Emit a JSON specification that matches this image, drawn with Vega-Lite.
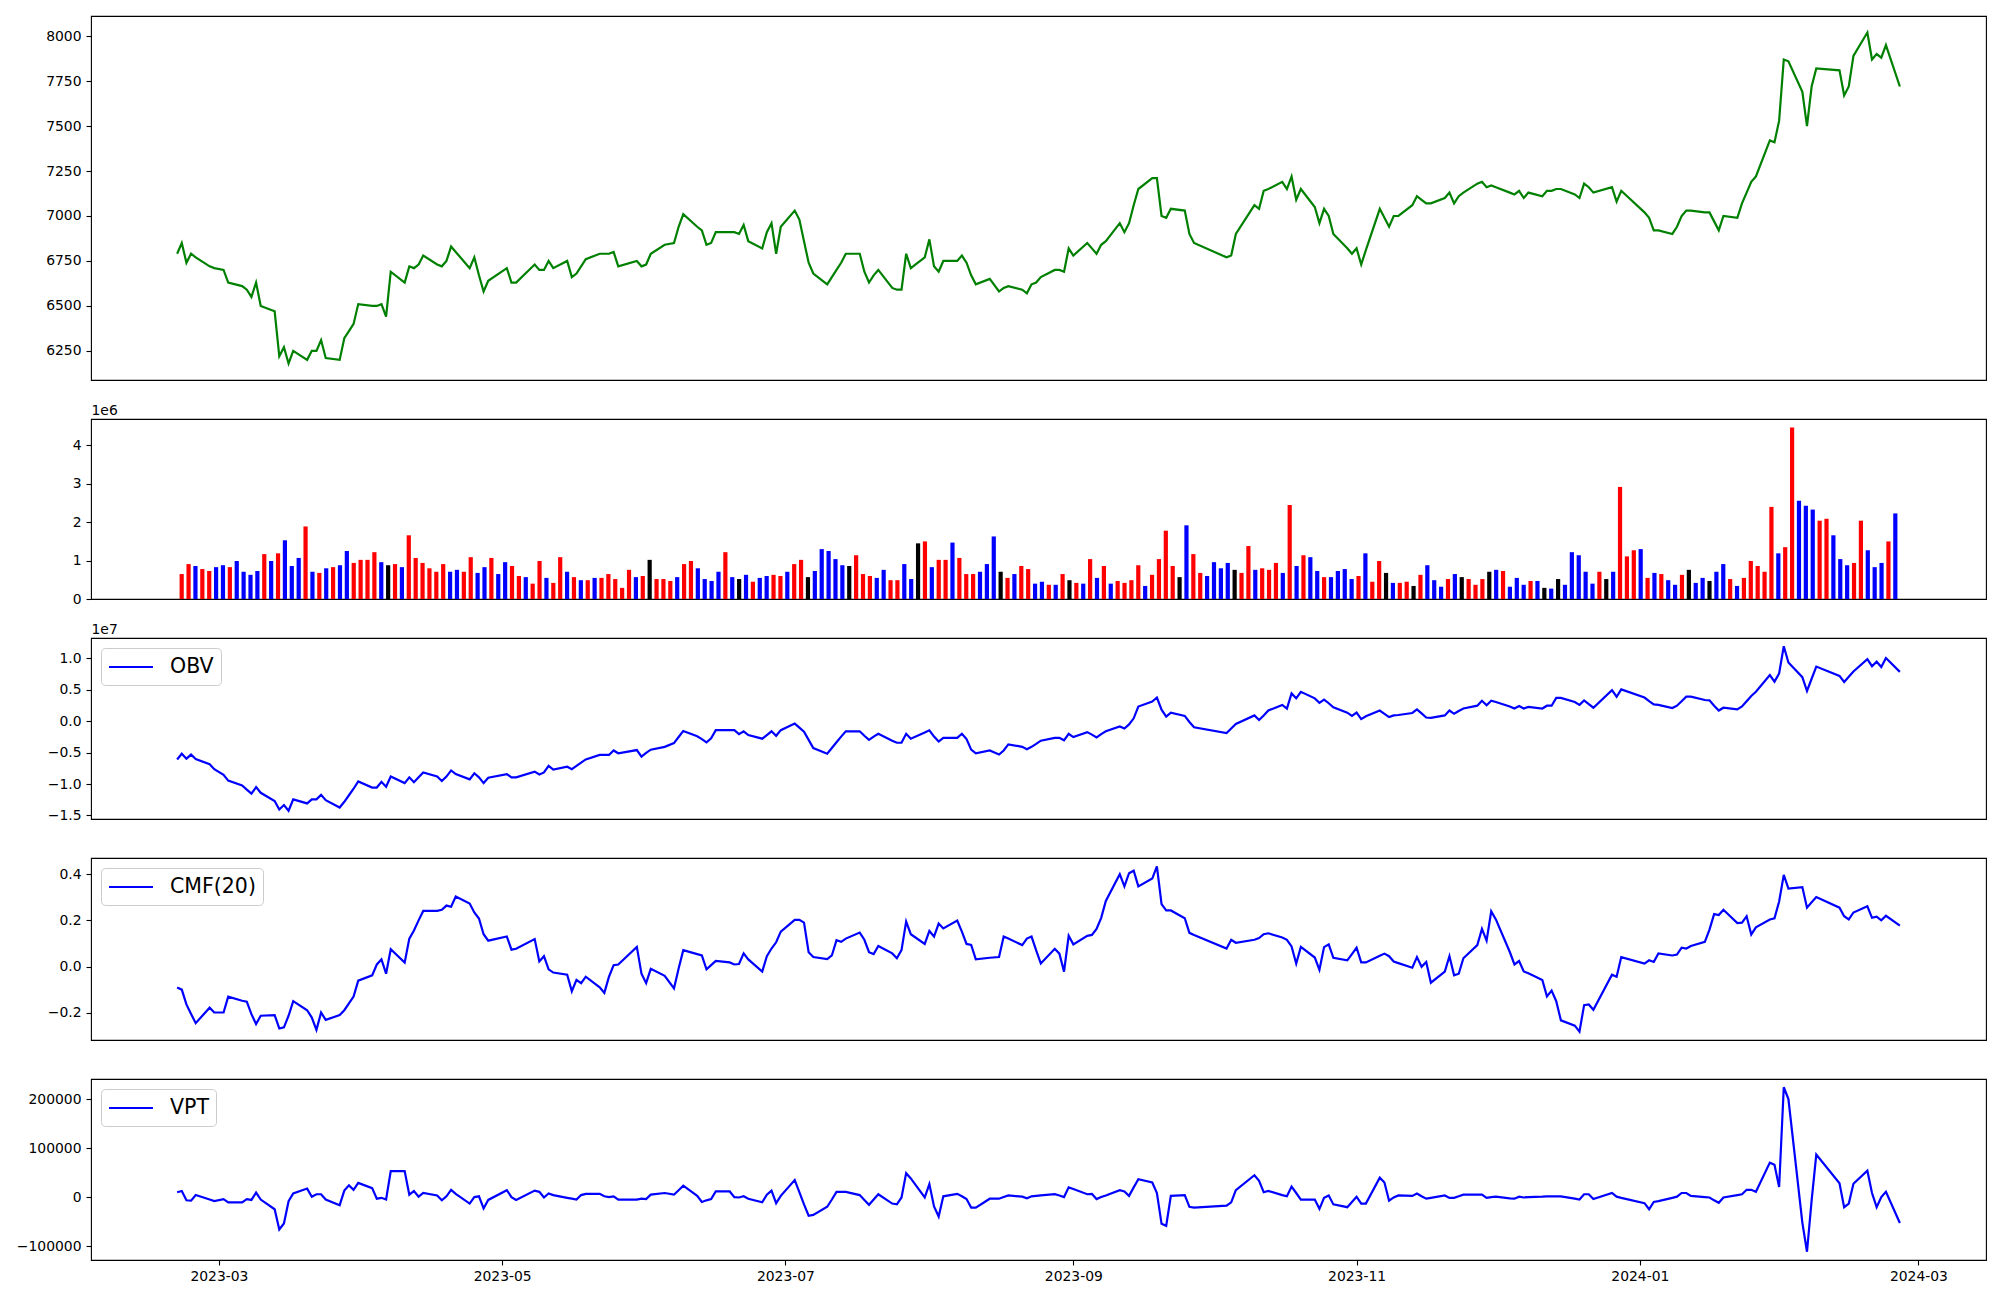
{
"$schema": "https://vega.github.io/schema/vega-lite/v6.json",
"background": "white",
"padding": {"left": 15, "top": 15, "right": 15, "bottom": 5},
"spacing": 39,
"bounds": "flush",
"datasets": {"d": [
{"d":"2023-02-20","i":0,"c":6790,"v":650000,"s":"up","obv":-6080000,"cmf":-0.091,"vpt":10300},
{"d":"2023-02-21","i":1,"c":6850,"v":910000,"s":"up","obv":-5170000,"cmf":-0.100,"vpt":12800},
{"d":"2023-02-22","i":2,"c":6740,"v":860000,"s":"down","obv":-5950000,"cmf":-0.164,"vpt":-6200},
{"d":"2023-02-23","i":3,"c":6790,"v":780000,"s":"up","obv":-5300000,"cmf":-0.205,"vpt":-7000},
{"d":"2023-02-24","i":4,"c":6770,"v":730000,"s":"up","obv":-6010000,"cmf":-0.245,"vpt":4500},
{"d":"2023-02-27","i":5,"c":6720,"v":830000,"s":"down","obv":-6850000,"cmf":-0.178,"vpt":-4600},
{"d":"2023-02-28","i":6,"c":6710,"v":880000,"s":"down","obv":-7630000,"cmf":-0.199,"vpt":-7900},
{"d":"2023-03-02","i":7,"c":6700,"v":830000,"s":"up","obv":-8540000,"cmf":-0.199,"vpt":-3700},
{"d":"2023-03-03","i":8,"c":6630,"v":990000,"s":"down","obv":-9450000,"cmf":-0.130,"vpt":-10300},
{"d":"2023-03-06","i":9,"c":6610,"v":710000,"s":"down","obv":-10230000,"cmf":-0.148,"vpt":-10300},
{"d":"2023-03-07","i":10,"c":6590,"v":630000,"s":"down","obv":-10870000,"cmf":-0.152,"vpt":-3700},
{"d":"2023-03-08","i":11,"c":6550,"v":730000,"s":"down","obv":-11520000,"cmf":-0.206,"vpt":-5400},
{"d":"2023-03-09","i":12,"c":6630,"v":1170000,"s":"up","obv":-10490000,"cmf":-0.249,"vpt":9500},
{"d":"2023-03-10","i":13,"c":6500,"v":990000,"s":"down","obv":-11390000,"cmf":-0.213,"vpt":-4600},
{"d":"2023-03-13","i":14,"c":6470,"v":1190000,"s":"up","obv":-12690000,"cmf":-0.210,"vpt":-24400},
{"d":"2023-03-14","i":15,"c":6220,"v":1530000,"s":"down","obv":-14050000,"cmf":-0.268,"vpt":-65600},
{"d":"2023-03-15","i":16,"c":6270,"v":860000,"s":"down","obv":-13340000,"cmf":-0.263,"vpt":-53200},
{"d":"2023-03-16","i":17,"c":6180,"v":1070000,"s":"down","obv":-14250000,"cmf":-0.213,"vpt":-7900},
{"d":"2023-03-17","i":18,"c":6250,"v":1890000,"s":"up","obv":-12430000,"cmf":-0.150,"vpt":7800},
{"d":"2023-03-20","i":19,"c":6200,"v":710000,"s":"down","obv":-13080000,"cmf":-0.189,"vpt":17700},
{"d":"2023-03-21","i":20,"c":6250,"v":680000,"s":"up","obv":-12430000,"cmf":-0.221,"vpt":1200},
{"d":"2023-03-22","i":21,"c":6250,"v":800000,"s":"down","obv":-12430000,"cmf":-0.274,"vpt":6200},
{"d":"2023-03-23","i":22,"c":6310,"v":830000,"s":"up","obv":-11720000,"cmf":-0.199,"vpt":6200},
{"d":"2023-03-24","i":23,"c":6210,"v":880000,"s":"down","obv":-12560000,"cmf":-0.231,"vpt":-4600},
{"d":"2023-03-27","i":24,"c":6200,"v":1250000,"s":"down","obv":-13730000,"cmf":-0.210,"vpt":-16100},
{"d":"2023-03-28","i":25,"c":6320,"v":940000,"s":"up","obv":-12820000,"cmf":-0.189,"vpt":13600},
{"d":"2023-03-29","i":26,"c":6360,"v":1020000,"s":"up","obv":-11780000,"cmf":-0.159,"vpt":24300},
{"d":"2023-03-30","i":27,"c":6400,"v":1020000,"s":"up","obv":-10740000,"cmf":-0.130,"vpt":15200},
{"d":"2023-03-31","i":28,"c":6510,"v":1220000,"s":"up","obv":-9580000,"cmf":-0.061,"vpt":29300},
{"d":"2023-04-03","i":29,"c":6500,"v":960000,"s":"down","obv":-10550000,"cmf":-0.038,"vpt":18600},
{"d":"2023-04-04","i":30,"c":6500,"v":880000,"s":"flat","obv":-10550000,"cmf":0.009,"vpt":-2900},
{"d":"2023-04-05","i":31,"c":6510,"v":910000,"s":"up","obv":-9640000,"cmf":0.031,"vpt":-1100},
{"d":"2023-04-06","i":32,"c":6440,"v":830000,"s":"down","obv":-10420000,"cmf":-0.031,"vpt":-4600},
{"d":"2023-04-07","i":33,"c":6690,"v":1660000,"s":"up","obv":-8800000,"cmf":0.075,"vpt":53200},
{"d":"2023-04-10","i":34,"c":6630,"v":1070000,"s":"up","obv":-9840000,"cmf":0.017,"vpt":53200},
{"d":"2023-04-11","i":35,"c":6720,"v":940000,"s":"up","obv":-8930000,"cmf":0.121,"vpt":5300},
{"d":"2023-04-12","i":36,"c":6710,"v":800000,"s":"up","obv":-9710000,"cmf":0.156,"vpt":12800},
{"d":"2023-04-13","i":37,"c":6730,"v":710000,"s":"up","obv":-8930000,"cmf":0.200,"vpt":1200},
{"d":"2023-04-14","i":38,"c":6780,"v":910000,"s":"up","obv":-8150000,"cmf":0.241,"vpt":8700},
{"d":"2023-04-17","i":39,"c":6730,"v":710000,"s":"down","obv":-8800000,"cmf":0.241,"vpt":3700},
{"d":"2023-04-18","i":40,"c":6720,"v":760000,"s":"down","obv":-9510000,"cmf":0.246,"vpt":-6200},
{"d":"2023-04-19","i":41,"c":6750,"v":710000,"s":"up","obv":-8800000,"cmf":0.264,"vpt":2000},
{"d":"2023-04-20","i":42,"c":6830,"v":1090000,"s":"up","obv":-7830000,"cmf":0.259,"vpt":15200},
{"d":"2023-04-21","i":43,"c":6800,"v":680000,"s":"down","obv":-8410000,"cmf":0.303,"vpt":7000},
{"d":"2023-04-24","i":44,"c":6710,"v":830000,"s":"down","obv":-9250000,"cmf":0.273,"vpt":-12800},
{"d":"2023-04-25","i":45,"c":6770,"v":1070000,"s":"up","obv":-8280000,"cmf":0.234,"vpt":400},
{"d":"2023-04-26","i":46,"c":6670,"v":650000,"s":"down","obv":-8930000,"cmf":0.208,"vpt":2000},
{"d":"2023-04-27","i":47,"c":6580,"v":960000,"s":"down","obv":-9840000,"cmf":0.140,"vpt":-22700},
{"d":"2023-04-28","i":48,"c":6640,"v":860000,"s":"up","obv":-8990000,"cmf":0.112,"vpt":-5400},
{"d":"2023-05-02","i":49,"c":6710,"v":600000,"s":"up","obv":-8410000,"cmf":0.130,"vpt":14400},
{"d":"2023-05-03","i":50,"c":6630,"v":570000,"s":"down","obv":-8930000,"cmf":0.073,"vpt":400},
{"d":"2023-05-04","i":51,"c":6630,"v":400000,"s":"up","obv":-8930000,"cmf":0.077,"vpt":-5400},
{"d":"2023-05-08","i":52,"c":6730,"v":990000,"s":"up","obv":-8020000,"cmf":0.119,"vpt":13600},
{"d":"2023-05-09","i":53,"c":6700,"v":550000,"s":"down","obv":-8470000,"cmf":0.022,"vpt":11100},
{"d":"2023-05-10","i":54,"c":6700,"v":420000,"s":"up","obv":-8150000,"cmf":0.045,"vpt":-400},
{"d":"2023-05-11","i":55,"c":6750,"v":1090000,"s":"up","obv":-7110000,"cmf":-0.012,"vpt":7800},
{"d":"2023-05-12","i":56,"c":6710,"v":710000,"s":"down","obv":-7700000,"cmf":-0.026,"vpt":4500},
{"d":"2023-05-15","i":57,"c":6750,"v":570000,"s":"up","obv":-7240000,"cmf":-0.035,"vpt":-1200},
{"d":"2023-05-16","i":58,"c":6660,"v":490000,"s":"down","obv":-7630000,"cmf":-0.107,"vpt":-2900},
{"d":"2023-05-17","i":59,"c":6680,"v":490000,"s":"up","obv":-7110000,"cmf":-0.058,"vpt":-4600},
{"d":"2023-05-18","i":60,"c":6720,"v":550000,"s":"down","obv":-6590000,"cmf":-0.072,"vpt":4500},
{"d":"2023-05-19","i":61,"c":6760,"v":550000,"s":"up","obv":-6080000,"cmf":-0.044,"vpt":7000},
{"d":"2023-05-22","i":62,"c":6790,"v":650000,"s":"up","obv":-5360000,"cmf":-0.090,"vpt":7000},
{"d":"2023-05-23","i":63,"c":6790,"v":520000,"s":"up","obv":-5360000,"cmf":-0.114,"vpt":2000},
{"d":"2023-05-24","i":64,"c":6790,"v":290000,"s":"up","obv":-5360000,"cmf":-0.044,"vpt":400},
{"d":"2023-05-25","i":65,"c":6800,"v":760000,"s":"up","obv":-4650000,"cmf":0.006,"vpt":2000},
{"d":"2023-05-26","i":66,"c":6720,"v":570000,"s":"down","obv":-5100000,"cmf":0.009,"vpt":-4600},
{"d":"2023-05-30","i":67,"c":6750,"v":600000,"s":"up","obv":-4580000,"cmf":0.085,"vpt":-4600},
{"d":"2023-05-31","i":68,"c":6720,"v":1020000,"s":"flat","obv":-5620000,"cmf":-0.031,"vpt":-2900},
{"d":"2023-06-01","i":69,"c":6730,"v":520000,"s":"up","obv":-5040000,"cmf":-0.072,"vpt":-3700},
{"d":"2023-06-02","i":70,"c":6790,"v":520000,"s":"up","obv":-4520000,"cmf":-0.010,"vpt":5300},
{"d":"2023-06-05","i":71,"c":6840,"v":470000,"s":"up","obv":-4070000,"cmf":-0.040,"vpt":8700},
{"d":"2023-06-07","i":72,"c":6850,"v":570000,"s":"down","obv":-3480000,"cmf":-0.095,"vpt":5300},
{"d":"2023-06-08","i":73,"c":6940,"v":910000,"s":"up","obv":-2510000,"cmf":-0.008,"vpt":14400},
{"d":"2023-06-09","i":74,"c":7010,"v":990000,"s":"up","obv":-1540000,"cmf":0.071,"vpt":23500},
{"d":"2023-06-12","i":75,"c":6940,"v":800000,"s":"down","obv":-2380000,"cmf":0.054,"vpt":2900},
{"d":"2023-06-13","i":76,"c":6920,"v":520000,"s":"down","obv":-2830000,"cmf":0.048,"vpt":-9500},
{"d":"2023-06-14","i":77,"c":6840,"v":470000,"s":"down","obv":-3350000,"cmf":-0.012,"vpt":-6200},
{"d":"2023-06-15","i":78,"c":6850,"v":710000,"s":"down","obv":-2700000,"cmf":0.006,"vpt":-3700},
{"d":"2023-06-16","i":79,"c":6910,"v":1220000,"s":"up","obv":-1410000,"cmf":0.024,"vpt":11900},
{"d":"2023-06-19","i":80,"c":6910,"v":570000,"s":"down","obv":-1410000,"cmf":0.018,"vpt":11900},
{"d":"2023-06-20","i":81,"c":6910,"v":520000,"s":"flat","obv":-1410000,"cmf":0.009,"vpt":400},
{"d":"2023-06-21","i":82,"c":6900,"v":630000,"s":"down","obv":-2050000,"cmf":0.011,"vpt":-400},
{"d":"2023-06-22","i":83,"c":6950,"v":450000,"s":"up","obv":-1600000,"cmf":0.057,"vpt":2000},
{"d":"2023-06-23","i":84,"c":6860,"v":550000,"s":"down","obv":-2190000,"cmf":0.031,"vpt":-2900},
{"d":"2023-06-26","i":85,"c":6820,"v":600000,"s":"down","obv":-2770000,"cmf":-0.022,"vpt":-10300},
{"d":"2023-06-27","i":86,"c":6910,"v":630000,"s":"up","obv":-2190000,"cmf":0.045,"vpt":5300},
{"d":"2023-06-28","i":87,"c":6960,"v":600000,"s":"up","obv":-1600000,"cmf":0.078,"vpt":13600},
{"d":"2023-06-29","i":88,"c":6790,"v":710000,"s":"down","obv":-2310000,"cmf":0.105,"vpt":-12000},
{"d":"2023-06-30","i":89,"c":6940,"v":910000,"s":"up","obv":-1410000,"cmf":0.151,"vpt":2900},
{"d":"2023-07-03","i":90,"c":7030,"v":1020000,"s":"up","obv":-370000,"cmf":0.202,"vpt":35000},
{"d":"2023-07-04","i":91,"c":6980,"v":570000,"s":"flat","obv":-1020000,"cmf":0.202,"vpt":10300},
{"d":"2023-07-05","i":92,"c":6860,"v":730000,"s":"down","obv":-1670000,"cmf":0.190,"vpt":-14500},
{"d":"2023-07-06","i":93,"c":6740,"v":1300000,"s":"down","obv":-2960000,"cmf":0.062,"vpt":-37600},
{"d":"2023-07-07","i":94,"c":6680,"v":1250000,"s":"down","obv":-4260000,"cmf":0.041,"vpt":-35900},
{"d":"2023-07-10","i":95,"c":6620,"v":1040000,"s":"down","obv":-5170000,"cmf":0.032,"vpt":-19400},
{"d":"2023-07-11","i":96,"c":6660,"v":880000,"s":"down","obv":-4260000,"cmf":0.048,"vpt":-4600},
{"d":"2023-07-12","i":97,"c":6700,"v":860000,"s":"flat","obv":-3350000,"cmf":0.114,"vpt":11100},
{"d":"2023-07-13","i":98,"c":6740,"v":1140000,"s":"up","obv":-2440000,"cmf":0.107,"vpt":11100},
{"d":"2023-07-14","i":99,"c":6790,"v":650000,"s":"up","obv":-1600000,"cmf":0.121,"vpt":11100},
{"d":"2023-07-17","i":100,"c":6790,"v":600000,"s":"up","obv":-1600000,"cmf":0.147,"vpt":4500},
{"d":"2023-07-18","i":101,"c":6690,"v":550000,"s":"down","obv":-2310000,"cmf":0.116,"vpt":-5400},
{"d":"2023-07-19","i":102,"c":6630,"v":760000,"s":"down","obv":-2960000,"cmf":0.062,"vpt":-15300},
{"d":"2023-07-20","i":103,"c":6670,"v":490000,"s":"up","obv":-2440000,"cmf":0.054,"vpt":-4600},
{"d":"2023-07-21","i":104,"c":6700,"v":490000,"s":"up","obv":-1990000,"cmf":0.089,"vpt":6200},
{"d":"2023-07-24","i":105,"c":6600,"v":910000,"s":"down","obv":-3090000,"cmf":0.057,"vpt":-12800},
{"d":"2023-07-25","i":106,"c":6590,"v":520000,"s":"down","obv":-3420000,"cmf":0.036,"vpt":-14500},
{"d":"2023-07-26","i":107,"c":6590,"v":1450000,"s":"flat","obv":-3420000,"cmf":0.071,"vpt":-400},
{"d":"2023-07-27","i":108,"c":6790,"v":1500000,"s":"up","obv":-1990000,"cmf":0.195,"vpt":49100},
{"d":"2023-07-28","i":109,"c":6710,"v":830000,"s":"down","obv":-2770000,"cmf":0.140,"vpt":38400},
{"d":"2023-07-31","i":110,"c":6770,"v":1020000,"s":"up","obv":-1790000,"cmf":0.098,"vpt":-400},
{"d":"2023-08-01","i":111,"c":6870,"v":1020000,"s":"up","obv":-1440000,"cmf":0.154,"vpt":26800},
{"d":"2023-08-02","i":112,"c":6720,"v":1470000,"s":"down","obv":-2440000,"cmf":0.130,"vpt":-18600},
{"d":"2023-08-03","i":113,"c":6690,"v":1070000,"s":"up","obv":-3220000,"cmf":0.186,"vpt":-39200},
{"d":"2023-08-04","i":114,"c":6750,"v":650000,"s":"up","obv":-2640000,"cmf":0.165,"vpt":2000},
{"d":"2023-08-07","i":115,"c":6750,"v":650000,"s":"up","obv":-2640000,"cmf":0.199,"vpt":7000},
{"d":"2023-08-08","i":116,"c":6780,"v":710000,"s":"down","obv":-1990000,"cmf":0.151,"vpt":2000},
{"d":"2023-08-09","i":117,"c":6740,"v":910000,"s":"down","obv":-2830000,"cmf":0.098,"vpt":-3700},
{"d":"2023-08-10","i":118,"c":6670,"v":1630000,"s":"down","obv":-4520000,"cmf":0.094,"vpt":-21100},
{"d":"2023-08-11","i":119,"c":6620,"v":710000,"s":"flat","obv":-5100000,"cmf":0.031,"vpt":-21100},
{"d":"2023-08-14","i":120,"c":6650,"v":550000,"s":"up","obv":-4650000,"cmf":0.038,"vpt":-2900},
{"d":"2023-08-16","i":121,"c":6580,"v":650000,"s":"down","obv":-5300000,"cmf":0.041,"vpt":-2900},
{"d":"2023-08-17","i":122,"c":6600,"v":860000,"s":"up","obv":-4650000,"cmf":0.130,"vpt":400},
{"d":"2023-08-18","i":123,"c":6610,"v":780000,"s":"up","obv":-3680000,"cmf":0.121,"vpt":3700},
{"d":"2023-08-21","i":124,"c":6590,"v":400000,"s":"down","obv":-4070000,"cmf":0.093,"vpt":1200},
{"d":"2023-08-22","i":125,"c":6570,"v":450000,"s":"down","obv":-4450000,"cmf":0.121,"vpt":-2100},
{"d":"2023-08-23","i":126,"c":6620,"v":370000,"s":"up","obv":-4070000,"cmf":0.130,"vpt":2000},
{"d":"2023-08-24","i":127,"c":6630,"v":370000,"s":"down","obv":-3610000,"cmf":0.070,"vpt":2900},
{"d":"2023-08-25","i":128,"c":6660,"v":650000,"s":"up","obv":-3090000,"cmf":0.013,"vpt":3700},
{"d":"2023-08-28","i":129,"c":6700,"v":490000,"s":"flat","obv":-2640000,"cmf":0.077,"vpt":6200},
{"d":"2023-08-29","i":130,"c":6700,"v":420000,"s":"up","obv":-2640000,"cmf":0.056,"vpt":3700},
{"d":"2023-08-30","i":131,"c":6690,"v":400000,"s":"down","obv":-3030000,"cmf":-0.022,"vpt":400},
{"d":"2023-08-31","i":132,"c":6820,"v":1040000,"s":"up","obv":-1990000,"cmf":0.133,"vpt":20200},
{"d":"2023-09-01","i":133,"c":6780,"v":550000,"s":"down","obv":-2510000,"cmf":0.096,"vpt":16900},
{"d":"2023-09-04","i":134,"c":6850,"v":860000,"s":"up","obv":-1730000,"cmf":0.133,"vpt":6200},
{"d":"2023-09-05","i":135,"c":6820,"v":400000,"s":"down","obv":-2120000,"cmf":0.137,"vpt":7000},
{"d":"2023-09-06","i":136,"c":6790,"v":470000,"s":"up","obv":-2570000,"cmf":0.163,"vpt":-3700},
{"d":"2023-09-07","i":137,"c":6840,"v":420000,"s":"up","obv":-2050000,"cmf":0.211,"vpt":400},
{"d":"2023-09-08","i":138,"c":6860,"v":490000,"s":"up","obv":-1600000,"cmf":0.284,"vpt":3700},
{"d":"2023-09-11","i":139,"c":6960,"v":880000,"s":"up","obv":-820000,"cmf":0.400,"vpt":14400},
{"d":"2023-09-12","i":140,"c":6910,"v":340000,"s":"down","obv":-1150000,"cmf":0.347,"vpt":11900},
{"d":"2023-09-13","i":141,"c":6960,"v":630000,"s":"up","obv":-500000,"cmf":0.404,"vpt":2900},
{"d":"2023-09-14","i":142,"c":7060,"v":1040000,"s":"up","obv":470000,"cmf":0.415,"vpt":20200},
{"d":"2023-09-15","i":143,"c":7150,"v":1780000,"s":"up","obv":2350000,"cmf":0.347,"vpt":36700},
{"d":"2023-09-18","i":144,"c":7210,"v":860000,"s":"up","obv":3130000,"cmf":0.381,"vpt":30100},
{"d":"2023-09-19","i":145,"c":7210,"v":570000,"s":"flat","obv":3780000,"cmf":0.434,"vpt":8700},
{"d":"2023-09-20","i":146,"c":7000,"v":1920000,"s":"down","obv":1840000,"cmf":0.270,"vpt":-54100},
{"d":"2023-09-21","i":147,"c":6990,"v":1170000,"s":"up","obv":730000,"cmf":0.243,"vpt":-58200},
{"d":"2023-09-22","i":148,"c":7040,"v":680000,"s":"up","obv":1380000,"cmf":0.243,"vpt":2900},
{"d":"2023-09-25","i":149,"c":7030,"v":600000,"s":"down","obv":860000,"cmf":0.209,"vpt":4500},
{"d":"2023-09-26","i":150,"c":6900,"v":960000,"s":"down","obv":-110000,"cmf":0.146,"vpt":-19400},
{"d":"2023-09-27","i":151,"c":6850,"v":800000,"s":"down","obv":-950000,"cmf":0.137,"vpt":-21100},
{"d":"2023-10-04","i":152,"c":6770,"v":940000,"s":"down","obv":-1860000,"cmf":0.078,"vpt":-16900},
{"d":"2023-10-05","i":153,"c":6780,"v":760000,"s":"flat","obv":-1150000,"cmf":0.116,"vpt":-10300},
{"d":"2023-10-06","i":154,"c":6900,"v":680000,"s":"up","obv":-440000,"cmf":0.103,"vpt":14400},
{"d":"2023-10-10","i":155,"c":7060,"v":1380000,"s":"up","obv":930000,"cmf":0.116,"vpt":44900},
{"d":"2023-10-11","i":156,"c":7040,"v":760000,"s":"down","obv":210000,"cmf":0.123,"vpt":33400},
{"d":"2023-10-12","i":157,"c":7140,"v":800000,"s":"up","obv":930000,"cmf":0.140,"vpt":10300},
{"d":"2023-10-13","i":158,"c":7150,"v":760000,"s":"up","obv":1710000,"cmf":0.144,"vpt":12800},
{"d":"2023-10-16","i":159,"c":7190,"v":940000,"s":"up","obv":2610000,"cmf":0.126,"vpt":4500},
{"d":"2023-10-17","i":160,"c":7150,"v":680000,"s":"down","obv":2030000,"cmf":0.116,"vpt":2000},
{"d":"2023-10-18","i":161,"c":7220,"v":2450000,"s":"up","obv":4430000,"cmf":0.087,"vpt":21800},
{"d":"2023-10-19","i":162,"c":7090,"v":860000,"s":"down","obv":3650000,"cmf":0.013,"vpt":8700},
{"d":"2023-10-20","i":163,"c":7150,"v":1140000,"s":"up","obv":4690000,"cmf":0.085,"vpt":-4600},
{"d":"2023-10-23","i":164,"c":7050,"v":1090000,"s":"down","obv":3650000,"cmf":0.039,"vpt":-4600},
{"d":"2023-10-24","i":165,"c":6960,"v":730000,"s":"down","obv":2940000,"cmf":-0.014,"vpt":-23500},
{"d":"2023-10-25","i":166,"c":7040,"v":570000,"s":"up","obv":3460000,"cmf":0.084,"vpt":-1200},
{"d":"2023-10-26","i":167,"c":7000,"v":570000,"s":"down","obv":2870000,"cmf":0.096,"vpt":3700},
{"d":"2023-10-27","i":168,"c":6900,"v":730000,"s":"down","obv":2220000,"cmf":0.038,"vpt":-14500},
{"d":"2023-10-30","i":169,"c":6820,"v":780000,"s":"down","obv":1380000,"cmf":0.027,"vpt":-20200},
{"d":"2023-10-31","i":170,"c":6790,"v":520000,"s":"down","obv":860000,"cmf":0.054,"vpt":-9500},
{"d":"2023-11-01","i":171,"c":6820,"v":600000,"s":"up","obv":1380000,"cmf":0.082,"vpt":1200},
{"d":"2023-11-02","i":172,"c":6730,"v":1190000,"s":"down","obv":350000,"cmf":0.018,"vpt":-12800},
{"d":"2023-11-03","i":173,"c":6810,"v":450000,"s":"up","obv":800000,"cmf":0.018,"vpt":-12800},
{"d":"2023-11-06","i":174,"c":7040,"v":990000,"s":"up","obv":1710000,"cmf":0.047,"vpt":39900},
{"d":"2023-11-07","i":175,"c":6990,"v":680000,"s":"flat","obv":1190000,"cmf":0.056,"vpt":30100},
{"d":"2023-11-08","i":176,"c":6940,"v":420000,"s":"down","obv":670000,"cmf":0.045,"vpt":-7000},
{"d":"2023-11-09","i":177,"c":7000,"v":420000,"s":"up","obv":930000,"cmf":0.022,"vpt":-400},
{"d":"2023-11-10","i":178,"c":7000,"v":450000,"s":"up","obv":1000000,"cmf":0.015,"vpt":3700},
{"d":"2023-11-13","i":179,"c":7060,"v":340000,"s":"flat","obv":1320000,"cmf":-0.005,"vpt":2900},
{"d":"2023-11-14","i":180,"c":7110,"v":630000,"s":"up","obv":1900000,"cmf":0.041,"vpt":7800},
{"d":"2023-11-15","i":181,"c":7090,"v":880000,"s":"down","obv":1250000,"cmf":-0.001,"vpt":2000},
{"d":"2023-11-16","i":182,"c":7070,"v":490000,"s":"down","obv":600000,"cmf":0.020,"vpt":-2900},
{"d":"2023-11-17","i":183,"c":7070,"v":320000,"s":"down","obv":540000,"cmf":-0.070,"vpt":-1200},
{"d":"2023-11-20","i":184,"c":7100,"v":520000,"s":"up","obv":930000,"cmf":-0.022,"vpt":3700},
{"d":"2023-11-21","i":185,"c":7130,"v":650000,"s":"down","obv":1710000,"cmf":0.045,"vpt":-1200},
{"d":"2023-11-22","i":186,"c":7070,"v":570000,"s":"flat","obv":1190000,"cmf":-0.038,"vpt":-1200},
{"d":"2023-11-23","i":187,"c":7110,"v":520000,"s":"up","obv":1640000,"cmf":-0.031,"vpt":2000},
{"d":"2023-11-24","i":188,"c":7130,"v":370000,"s":"up","obv":2030000,"cmf":0.036,"vpt":5300},
{"d":"2023-11-27","i":189,"c":7180,"v":520000,"s":"up","obv":2480000,"cmf":0.093,"vpt":5300},
{"d":"2023-11-28","i":190,"c":7190,"v":710000,"s":"flat","obv":3260000,"cmf":0.163,"vpt":5300},
{"d":"2023-11-29","i":191,"c":7160,"v":760000,"s":"down","obv":2550000,"cmf":0.112,"vpt":-1200},
{"d":"2023-11-30","i":192,"c":7170,"v":730000,"s":"up","obv":3260000,"cmf":0.239,"vpt":400},
{"d":"2023-12-01","i":193,"c":7160,"v":320000,"s":"down","obv":3070000,"cmf":0.204,"vpt":1200},
{"d":"2023-12-04","i":194,"c":7130,"v":550000,"s":"down","obv":2350000,"cmf":0.063,"vpt":-2100},
{"d":"2023-12-05","i":195,"c":7120,"v":370000,"s":"down","obv":2030000,"cmf":0.009,"vpt":-2900},
{"d":"2023-12-06","i":196,"c":7140,"v":470000,"s":"up","obv":2420000,"cmf":0.024,"vpt":1200},
{"d":"2023-12-07","i":197,"c":7100,"v":470000,"s":"down","obv":2030000,"cmf":-0.021,"vpt":-400},
{"d":"2023-12-08","i":198,"c":7130,"v":290000,"s":"flat","obv":2290000,"cmf":-0.029,"vpt":400},
{"d":"2023-12-11","i":199,"c":7110,"v":270000,"s":"down","obv":2030000,"cmf":-0.058,"vpt":1200},
{"d":"2023-12-12","i":200,"c":7140,"v":520000,"s":"flat","obv":2480000,"cmf":-0.129,"vpt":2000},
{"d":"2023-12-13","i":201,"c":7140,"v":370000,"s":"down","obv":2480000,"cmf":-0.104,"vpt":2000},
{"d":"2023-12-14","i":202,"c":7150,"v":1220000,"s":"down","obv":3720000,"cmf":-0.150,"vpt":2000},
{"d":"2023-12-15","i":203,"c":7150,"v":1140000,"s":"down","obv":3720000,"cmf":-0.233,"vpt":2000},
{"d":"2023-12-18","i":204,"c":7120,"v":710000,"s":"down","obv":3070000,"cmf":-0.256,"vpt":-2900},
{"d":"2023-12-19","i":205,"c":7100,"v":400000,"s":"down","obv":2610000,"cmf":-0.282,"vpt":-4600},
{"d":"2023-12-20","i":206,"c":7180,"v":710000,"s":"up","obv":3330000,"cmf":-0.167,"vpt":6200},
{"d":"2023-12-21","i":207,"c":7160,"v":520000,"s":"flat","obv":2740000,"cmf":-0.164,"vpt":6200},
{"d":"2023-12-22","i":208,"c":7130,"v":710000,"s":"down","obv":2160000,"cmf":-0.187,"vpt":-3700},
{"d":"2023-12-26","i":209,"c":7160,"v":2920000,"s":"up","obv":4950000,"cmf":-0.035,"vpt":8700},
{"d":"2023-12-27","i":210,"c":7080,"v":1110000,"s":"up","obv":3910000,"cmf":-0.044,"vpt":1200},
{"d":"2023-12-28","i":211,"c":7140,"v":1270000,"s":"up","obv":5080000,"cmf":0.041,"vpt":-1200},
{"d":"2024-01-02","i":212,"c":7020,"v":1300000,"s":"down","obv":3780000,"cmf":0.013,"vpt":-11900},
{"d":"2024-01-03","i":213,"c":6990,"v":550000,"s":"up","obv":3200000,"cmf":0.027,"vpt":-24400},
{"d":"2024-01-04","i":214,"c":6920,"v":680000,"s":"down","obv":2680000,"cmf":0.020,"vpt":-9500},
{"d":"2024-01-05","i":215,"c":6920,"v":650000,"s":"up","obv":2610000,"cmf":0.057,"vpt":-7900},
{"d":"2024-01-08","i":216,"c":6900,"v":490000,"s":"down","obv":2100000,"cmf":0.048,"vpt":-1200},
{"d":"2024-01-09","i":217,"c":6940,"v":370000,"s":"down","obv":2480000,"cmf":0.052,"vpt":1200},
{"d":"2024-01-10","i":218,"c":7000,"v":630000,"s":"up","obv":3200000,"cmf":0.082,"vpt":8700},
{"d":"2024-01-11","i":219,"c":7030,"v":760000,"s":"flat","obv":3910000,"cmf":0.078,"vpt":8700},
{"d":"2024-01-12","i":220,"c":7030,"v":420000,"s":"down","obv":3910000,"cmf":0.089,"vpt":2900},
{"d":"2024-01-15","i":221,"c":7020,"v":550000,"s":"down","obv":3390000,"cmf":0.107,"vpt":400},
{"d":"2024-01-16","i":222,"c":7020,"v":470000,"s":"flat","obv":3330000,"cmf":0.160,"vpt":-400},
{"d":"2024-01-17","i":223,"c":6970,"v":710000,"s":"down","obv":2480000,"cmf":0.227,"vpt":-6200},
{"d":"2024-01-18","i":224,"c":6920,"v":910000,"s":"down","obv":1710000,"cmf":0.223,"vpt":-11200},
{"d":"2024-01-19","i":225,"c":7000,"v":520000,"s":"up","obv":2160000,"cmf":0.246,"vpt":-400},
{"d":"2024-01-22","i":226,"c":6990,"v":340000,"s":"down","obv":1900000,"cmf":0.188,"vpt":4500},
{"d":"2024-01-23","i":227,"c":7070,"v":550000,"s":"up","obv":2350000,"cmf":0.190,"vpt":6200},
{"d":"2024-01-24","i":228,"c":7130,"v":990000,"s":"up","obv":3200000,"cmf":0.218,"vpt":15200},
{"d":"2024-01-25","i":229,"c":7190,"v":860000,"s":"up","obv":4040000,"cmf":0.139,"vpt":15200},
{"d":"2024-01-26","i":230,"c":7220,"v":710000,"s":"up","obv":4690000,"cmf":0.170,"vpt":11100},
{"d":"2024-01-29","i":231,"c":7420,"v":2400000,"s":"up","obv":7350000,"cmf":0.204,"vpt":70500},
{"d":"2024-01-30","i":232,"c":7410,"v":1190000,"s":"down","obv":6310000,"cmf":0.209,"vpt":66400},
{"d":"2024-01-31","i":233,"c":7530,"v":1350000,"s":"up","obv":7610000,"cmf":0.282,"vpt":21000},
{"d":"2024-02-01","i":234,"c":7870,"v":4470000,"s":"up","obv":11950000,"cmf":0.397,"vpt":224000},
{"d":"2024-02-02","i":235,"c":7860,"v":2560000,"s":"down","obv":9360000,"cmf":0.338,"vpt":200000},
{"d":"2024-02-05","i":236,"c":7690,"v":2430000,"s":"down","obv":7020000,"cmf":0.344,"vpt":-51600},
{"d":"2024-02-06","i":237,"c":7500,"v":2330000,"s":"down","obv":4820000,"cmf":0.255,"vpt":-110900},
{"d":"2024-02-07","i":238,"c":7720,"v":2040000,"s":"up","obv":6770000,"cmf":0.278,"vpt":-6200},
{"d":"2024-02-08","i":239,"c":7820,"v":2090000,"s":"up","obv":8710000,"cmf":0.301,"vpt":87000},
{"d":"2024-02-13","i":240,"c":7810,"v":1660000,"s":"down","obv":7220000,"cmf":0.255,"vpt":28400},
{"d":"2024-02-14","i":241,"c":7670,"v":1040000,"s":"down","obv":6250000,"cmf":0.218,"vpt":-20200},
{"d":"2024-02-15","i":242,"c":7720,"v":880000,"s":"down","obv":7090000,"cmf":0.204,"vpt":-12800},
{"d":"2024-02-16","i":243,"c":7890,"v":940000,"s":"up","obv":7930000,"cmf":0.234,"vpt":27600},
{"d":"2024-02-19","i":244,"c":8020,"v":2040000,"s":"up","obv":9880000,"cmf":0.261,"vpt":54000},
{"d":"2024-02-20","i":245,"c":7870,"v":1270000,"s":"down","obv":8770000,"cmf":0.211,"vpt":8700},
{"d":"2024-02-21","i":246,"c":7900,"v":830000,"s":"down","obv":9490000,"cmf":0.216,"vpt":-20200},
{"d":"2024-02-22","i":247,"c":7880,"v":940000,"s":"down","obv":8650000,"cmf":0.200,"vpt":400},
{"d":"2024-02-23","i":248,"c":7950,"v":1500000,"s":"up","obv":10070000,"cmf":0.220,"vpt":11100},
{"d":"2024-02-26","i":249,"c":7720,"v":2230000,"s":"down","obv":7870000,"cmf":0.177,"vpt":-52400}
]},
"vconcat": [
{
"width": 1895, "height": 364,
"data": {"name": "d"},
"mark": {"type": "line", "color": "green", "strokeWidth": 2.2},
"encoding": {
"x": {"field": "d", "type": "temporal", "scale": {"type": "utc", "domain": [{"year": 2023, "month": 2, "date": 1, "hours": 10, "minutes": 48, "utc": true}, {"year": 2024, "month": 3, "date": 15, "hours": 13, "minutes": 12, "utc": true}]}, "axis": null},
"y": {"field": "c", "type": "quantitative", "scale": {"domain": [6088, 8112], "nice": false, "zero": false}, "axis": {"values": [6250, 6500, 6750, 7000, 7250, 7500, 7750, 8000], "format": "d", "title": null}}
}
},
{
"width": 1895, "height": 180,
"data": {"name": "d"},
"mark": {"type": "bar", "size": 4.2},
"encoding": {
"x": {"field": "i", "type": "quantitative", "scale": {"domain": [-12.45, 261.45], "nice": false, "zero": false}, "axis": null},
"y": {"field": "v", "type": "quantitative", "scale": {"domain": [0, 4690000], "nice": false}, "axis": {"values": [0, 1000000, 2000000, 3000000, 4000000], "labelExpr": "format(datum.value / 1000000, 'd')", "title": "1e6", "titleAngle": 0, "titleX": 0, "titleY": -5, "titleAlign": "left", "titleBaseline": "alphabetic", "titleFontWeight": "normal", "titleFontSize": 13.9}},
"color": {"field": "s", "type": "nominal", "scale": {"domain": ["up", "down", "flat"], "range": ["red", "blue", "black"]}, "legend": null}
}
},
{
"width": 1895, "height": 181,
"data": {"name": "d"},
"mark": {"type": "line", "strokeWidth": 2.2},
"encoding": {
"x": {"field": "d", "type": "temporal", "scale": {"type": "utc", "domain": [{"year": 2023, "month": 2, "date": 1, "hours": 10, "minutes": 48, "utc": true}, {"year": 2024, "month": 3, "date": 15, "hours": 13, "minutes": 12, "utc": true}]}, "axis": null},
"y": {"field": "obv", "type": "quantitative", "scale": {"domain": [-15560000, 13260000], "nice": false, "zero": false}, "axis": {"values": [-15000000, -10000000, -5000000, 0, 5000000, 10000000], "labelExpr": "format(datum.value / 10000000, '.1f')", "title": "1e7", "titleAngle": 0, "titleX": 0, "titleY": -5, "titleAlign": "left", "titleBaseline": "alphabetic", "titleFontWeight": "normal", "titleFontSize": 13.9}},
"color": {"datum": "OBV", "type": "nominal", "scale": {"domain": ["OBV"], "range": ["blue"]}, "legend": {"title": null}}
}
},
{
"width": 1895, "height": 182,
"data": {"name": "d"},
"mark": {"type": "line", "strokeWidth": 2.2},
"encoding": {
"x": {"field": "d", "type": "temporal", "scale": {"type": "utc", "domain": [{"year": 2023, "month": 2, "date": 1, "hours": 10, "minutes": 48, "utc": true}, {"year": 2024, "month": 3, "date": 15, "hours": 13, "minutes": 12, "utc": true}]}, "axis": null},
"y": {"field": "cmf", "type": "quantitative", "scale": {"domain": [-0.318, 0.47], "nice": false, "zero": false}, "axis": {"values": [-0.2, 0, 0.2, 0.4], "format": ".1f", "title": null}},
"color": {"datum": "CMF(20)", "type": "nominal", "scale": {"domain": ["CMF(20)"], "range": ["blue"]}, "legend": {"title": null}}
}
},
{
"width": 1895, "height": 181,
"data": {"name": "d"},
"mark": {"type": "line", "strokeWidth": 2.2},
"encoding": {
"x": {"field": "d", "type": "temporal", "scale": {"type": "utc", "domain": [{"year": 2023, "month": 2, "date": 1, "hours": 10, "minutes": 48, "utc": true}, {"year": 2024, "month": 3, "date": 15, "hours": 13, "minutes": 12, "utc": true}]}, "axis": {"values": [{"year": 2023, "month": 3, "date": 1, "utc": true}, {"year": 2023, "month": 5, "date": 1, "utc": true}, {"year": 2023, "month": 7, "date": 1, "utc": true}, {"year": 2023, "month": 9, "date": 1, "utc": true}, {"year": 2023, "month": 11, "date": 1, "utc": true}, {"year": 2024, "month": 1, "date": 1, "utc": true}, {"year": 2024, "month": 3, "date": 1, "utc": true}], "format": "%Y-%m", "title": null, "labelPadding": 4}},
"y": {"field": "vpt", "type": "quantitative", "scale": {"domain": [-127700, 240800], "nice": false, "zero": false}, "axis": {"values": [-100000, 0, 100000, 200000], "format": "d", "title": null}},
"color": {"datum": "VPT", "type": "nominal", "scale": {"domain": ["VPT"], "range": ["blue"]}, "legend": {"title": null}}
}
}
],
"resolve": {"scale": {"color": "independent"}, "legend": {"color": "independent"}},
"config": {
"font": "DejaVu Sans",
"view": {"stroke": "black", "strokeWidth": 1.1},
"axis": {"domain": false, "grid": false, "ticks": true, "tickColor": "black", "tickSize": 5, "tickWidth": 1.1, "labelFont": "DejaVu Sans", "labelFontSize": 13.9, "labelColor": "black", "labelPadding": 5, "titleFont": "DejaVu Sans", "titleColor": "black", "labelOverlap": false},
"legend": {"orient": "top-left", "offset": 10, "padding": 7, "strokeColor": "#cccccc", "fillColor": "white", "cornerRadius": 4, "labelFont": "DejaVu Sans", "labelFontSize": 20.5, "labelColor": "black", "symbolType": "M-1,0L3,0", "symbolStrokeWidth": 2, "symbolSize": 484, "labelOffset": 38}
}
}
